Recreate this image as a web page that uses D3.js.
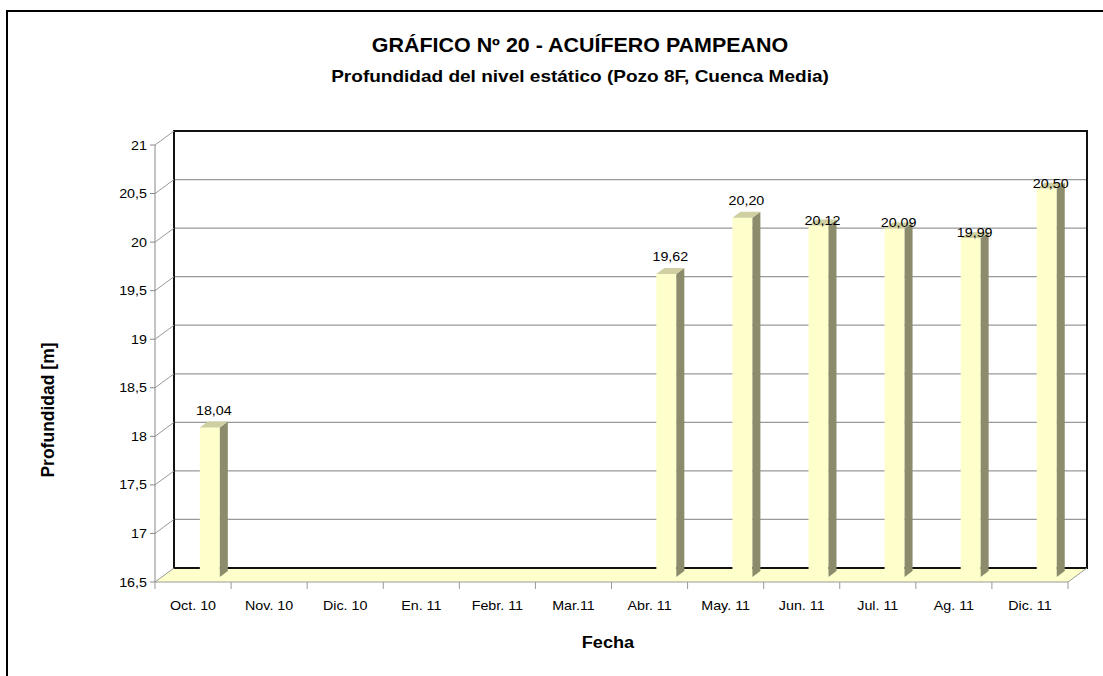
<!DOCTYPE html>
<html><head><meta charset="utf-8">
<script src="https://cdn.jsdelivr.net/npm/d3@7"></script>
<style>body{margin:0;background:#fff}svg{display:block}text{font-family:"Liberation Sans",Arial,sans-serif}</style>
</head><body>
<script>
const categories = ["Oct. 10","Nov. 10","Dic. 10","En. 11","Febr. 11","Mar.11","Abr. 11","May. 11","Jun. 11","Jul. 11","Ag. 11","Dic. 11"];
const values = [18.04,null,null,null,null,null,19.62,20.20,20.12,20.09,19.99,20.50];
const valueLabels = ["18,04","","","","","","19,62","20,20","20,12","20,09","19,99","20,50"];
const labelAbove = [true,false,false,false,false,false,true,true,false,false,false,false];
const yTicks = [16.5,17,17.5,18,18.5,19,19.5,20,20.5,21];
const yTickLabels = ["16,5","17","17,5","18","18,5","19","19,5","20","20,5","21"];
const title = "GRÁFICO Nº 20 - ACUÍFERO PAMPEANO";
const subtitle = "Profundidad del nivel estático (Pozo 8F, Cuenca Media)";
const xTitle = "Fecha", yTitle = "Profundidad [m]";

const W=1103,H=676, SX=1.1;
const svg=d3.select("body").append("svg").attr("width",W).attr("height",H);
const x=d3.scaleBand().domain(categories).range([155,1068]).padding(0);
const y=d3.scaleLinear().domain([16.5,21]).range([582,145]);
const DX=19, DY=-14;
function txt(g,xp,yp,s,opt){
  const t=g.append("g").attr("transform",`translate(${xp},${yp}) scale(${opt.sx||SX},1)`)
   .append("text").text(s).attr("font-size",opt.size).attr("text-anchor",opt.anchor||"middle")
   .attr("font-weight",opt.bold?"bold":"normal").attr("fill","#000");
  return t;
}
// outer border
svg.append("rect").attr("x",7).attr("y",11).attr("width",W+20).attr("height",H+20).attr("fill","none").attr("stroke","#000").attr("stroke-width",2);
// floor
const y0=y(16.5), yTop=y(21);
svg.append("polygon").attr("points",[[155,y0],[1068,y0],[1068+DX,y0+DY],[155+DX,y0+DY]].join(" ")).attr("fill","#FFFFCC");
// back wall gridlines
svg.selectAll("line.grid").data(yTicks.slice(1,-1)).join("line").attr("x1",155+DX).attr("x2",1068+DX)
  .attr("y1",d=>y(d)+DY).attr("y2",d=>y(d)+DY).attr("stroke","#999").attr("stroke-width",1.2);
// back wall frame
svg.append("path").attr("d",`M${155+DX},${y0+DY}V${yTop+DY}H${1068+DX}V${y0+DY}Z`).attr("fill","none").attr("stroke","#111").attr("stroke-width",2);
// left wall diagonals
svg.selectAll("line.diag").data(yTicks).join("line").attr("x1",155).attr("x2",155+DX)
  .attr("y1",d=>y(d)).attr("y2",d=>y(d)+DY).attr("stroke","#999");
// y axis
svg.append("line").attr("x1",155).attr("x2",155).attr("y1",yTop).attr("y2",y0).attr("stroke","#888");
svg.selectAll("line.yt").data(yTicks).join("line").attr("x1",150).attr("x2",155).attr("y1",d=>y(d)).attr("y2",d=>y(d)).attr("stroke","#888");
yTicks.forEach((d,i)=>txt(svg,147,y(d)+4.5,yTickLabels[i],{size:13,anchor:"end"}));
// x axis
svg.append("line").attr("x1",155).attr("x2",1068).attr("y1",y0).attr("y2",y0).attr("stroke","#999");
svg.append("line").attr("x1",1068).attr("x2",1068+DX).attr("y1",y0).attr("y2",y0+DY).attr("stroke","#999");
const bounds=categories.map(c=>x(c)).concat([x.range()[1]]);
svg.selectAll("line.xt").data(bounds).join("line").attr("x1",d=>d).attr("x2",d=>d).attr("y1",y0).attr("y2",y0+7).attr("stroke","#999");
categories.forEach(c=>txt(svg,x(c)+x.bandwidth()/2,610,c,{size:13}));
// bars
const fz=0.36, bz=0.78, bw=20, boff=38;
const fdx=DX*fz, fdy=DY*fz, sdx=DX*(bz-fz), sdy=DY*(bz-fz);
categories.forEach((c,i)=>{
  const v=values[i]; if(v==null) return;
  const xl=x(c)+boff+fdx, xr=xl+bw, yt=y(v)+fdy, yb=y(16.5)+fdy;
  svg.append("rect").attr("x",xl).attr("y",yt).attr("width",bw).attr("height",yb-yt).attr("fill","#FFFFCC");
  svg.append("polygon").attr("points",[[xr,yt],[xr+sdx,yt+sdy],[xr+sdx,yb+sdy],[xr,yb]].join(" ")).attr("fill","#8C8C6C");
  svg.append("polygon").attr("points",[[xl,yt],[xr,yt],[xr+sdx,yt+sdy],[xl+sdx,yt+sdy]].join(" ")).attr("fill","#CFCFA2");
  const ly = yt+sdy + (labelAbove[i] ? -7 : 5);
  txt(svg,xl+14,ly,valueLabels[i],{size:13});
});
// titles
txt(svg,580,52,title,{size:19.5,bold:true});
txt(svg,580,82,subtitle,{size:17.3,bold:true});
txt(svg,608,648,xTitle,{size:16.5,bold:true});
svg.append("text").attr("transform",`translate(54,410) rotate(-90)`).attr("text-anchor","middle")
  .attr("font-size",17.5).attr("font-weight","bold").text(yTitle);
</script>
</body></html>
